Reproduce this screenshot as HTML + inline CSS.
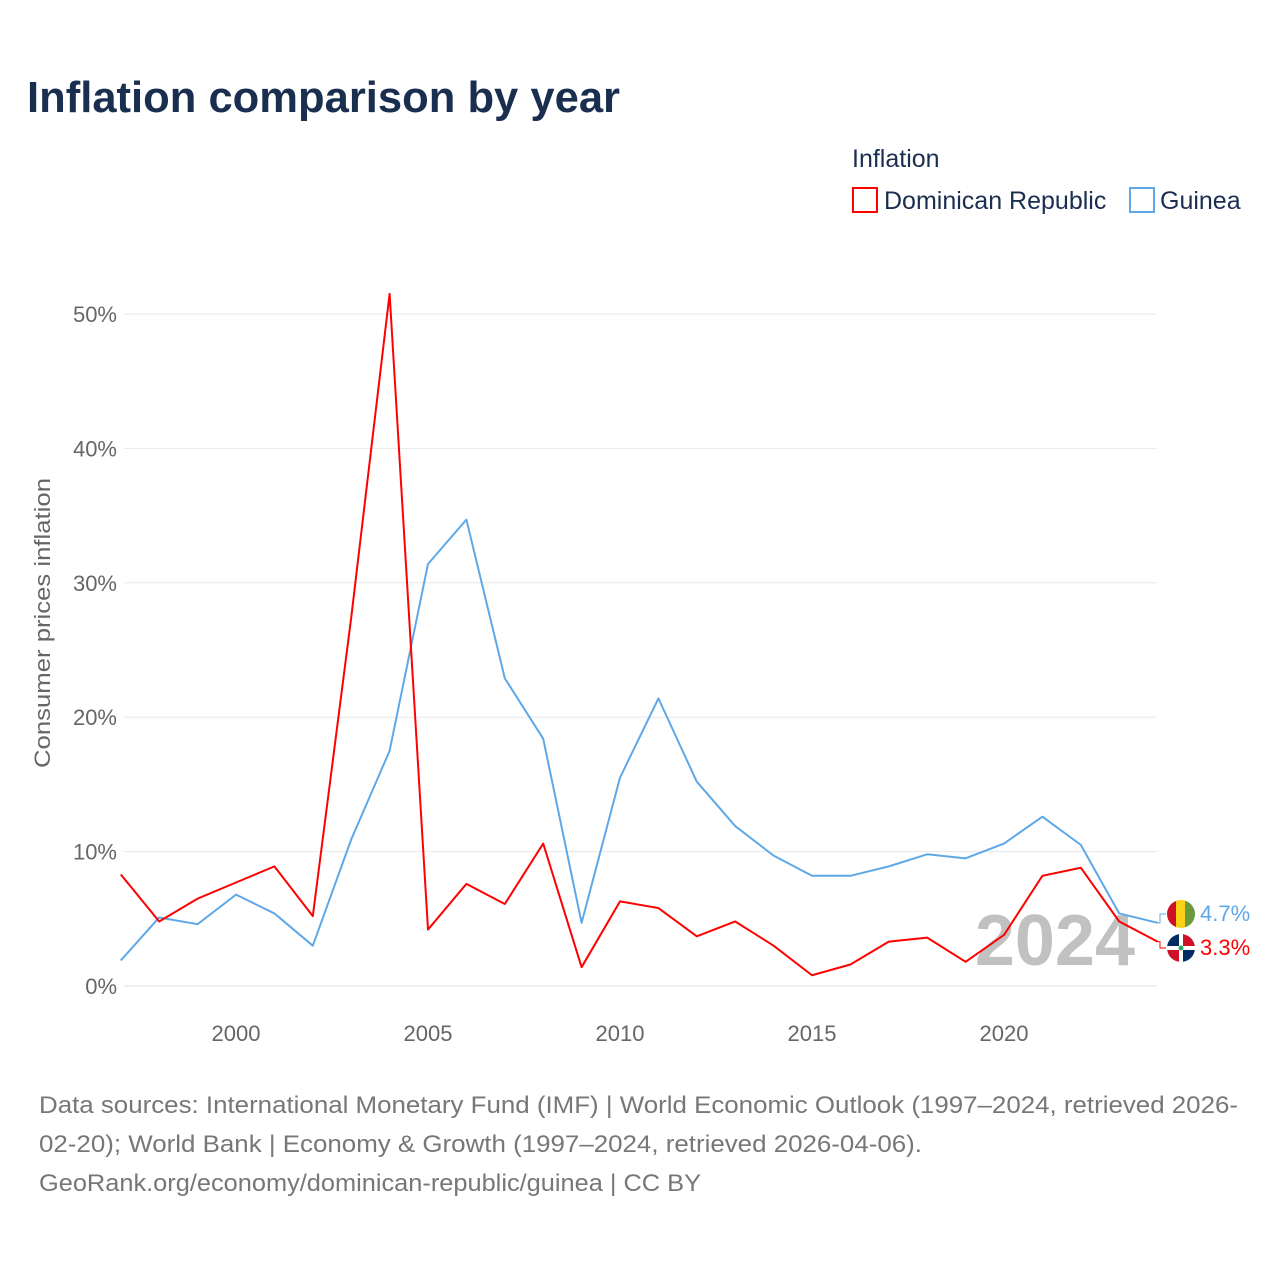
<!DOCTYPE html>
<html><head><meta charset="utf-8">
<style>
body{margin:0;background:#fff;font-family:"Liberation Sans",sans-serif;}
#wrap{position:relative;width:1280px;height:1280px;overflow:hidden;}
</style></head>
<body>
<div id="wrap">
<svg id="chart" width="1280" height="1280" viewBox="0 0 1280 1280">
<text x="27" y="112" font-size="44" font-weight="bold" fill="#1a2e4f" textLength="593" lengthAdjust="spacingAndGlyphs">Inflation comparison by year</text>
<text x="852" y="167" font-size="25" fill="#1a2e4f">Inflation</text>
<g>
<rect x="853" y="188" width="24" height="24" fill="none" stroke="#f00" stroke-width="2"/>
<text x="884" y="209" font-size="25" fill="#1a2e4f">Dominican Republic</text></g>
<g>
<rect x="1130" y="188" width="24" height="24" fill="none" stroke="#5ea8e8" stroke-width="2"/>
<text x="1160" y="209" font-size="25" fill="#1a2e4f">Guinea</text></g>
<g id="grid"></g>
<g id="yticks"></g>
<g id="xticks"></g>
<text transform="translate(50,623) rotate(-90)" text-anchor="middle" font-size="22" fill="#666" textLength="290" lengthAdjust="spacingAndGlyphs">Consumer prices inflation</text>
<text x="1135" y="965" text-anchor="end" font-size="72" font-weight="bold" fill="#bbb" opacity="0.9">2024</text>
<g id="series"></g>
<g>
<clipPath id="cg"><circle cx="1181" cy="914" r="14"/></clipPath>
<g clip-path="url(#cg)"><rect x="1167" y="900" width="10" height="28" fill="#ce1126"/><rect x="1176" y="900" width="10" height="28" fill="#fcd116"/><rect x="1185" y="900" width="10" height="28" fill="#6a9a3e"/></g></g>
<g>
<clipPath id="cd"><circle cx="1181" cy="948" r="14"/></clipPath>
<g clip-path="url(#cd)"><rect x="1167" y="934" width="28" height="28" fill="#fff"/><rect x="1167" y="934" width="12" height="12" fill="#002d62"/><rect x="1183" y="934" width="12" height="12" fill="#ce1126"/><rect x="1167" y="950" width="12" height="12" fill="#ce1126"/><rect x="1183" y="950" width="12" height="12" fill="#002d62"/><circle cx="1181" cy="948" r="2.5" fill="#2a6"/></g></g>
<text x="1200" y="921" font-size="22" fill="#5ea8e8">4.7%</text>
<text x="1200" y="955" font-size="22" fill="#f00">3.3%</text>
<text font-size="24" fill="#777"><tspan x="39" y="1113" textLength="1199" lengthAdjust="spacingAndGlyphs">Data sources: International Monetary Fund (IMF) | World Economic Outlook (1997–2024, retrieved 2026-</tspan></text>
<text font-size="24" fill="#777"><tspan x="39" y="1152" textLength="883" lengthAdjust="spacingAndGlyphs">02-20); World Bank | Economy &amp; Growth (1997–2024, retrieved 2026-04-06).</tspan></text>
<text font-size="24" fill="#777"><tspan x="39" y="1191" textLength="662" lengthAdjust="spacingAndGlyphs">GeoRank.org/economy/dominican-republic/guinea | CC BY</tspan></text>
</svg>
</div>
<script>
const years=[1997,1998,1999,2000,2001,2002,2003,2004,2005,2006,2007,2008,2009,2010,2011,2012,2013,2014,2015,2016,2017,2018,2019,2020,2021,2022,2023,2024];
const domRep=[8.3,4.8,6.5,7.7,8.9,5.2,27.4,51.5,4.2,7.6,6.1,10.6,1.4,6.3,5.8,3.7,4.8,3.0,0.8,1.6,3.3,3.6,1.8,3.8,8.2,8.8,4.8,3.3];
const guinea=[1.9,5.1,4.6,6.8,5.4,3.0,10.9,17.5,31.4,34.7,22.9,18.4,4.7,15.5,21.4,15.2,11.9,9.7,8.2,8.2,8.9,9.8,9.5,10.6,12.6,10.5,5.4,4.7];
const yTicks=[0,10,20,30,40,50];
const xTicks=[2000,2005,2010,2015,2020];
const NS="http://www.w3.org/2000/svg";
function xs(y){return 120.8+(y-1997)*38.4;}
function ys(v){return 986-v*13.44;}
const grid=document.getElementById('grid'),yt=document.getElementById('yticks'),xt=document.getElementById('xticks'),ser=document.getElementById('series');
yTicks.forEach(t=>{
 const l=document.createElementNS(NS,'line');
 
 
 l.setAttribute('x1',124);l.setAttribute('x2',1157);l.setAttribute('y1',ys(t));l.setAttribute('y2',ys(t));
 l.setAttribute('stroke',t===0?'#ddd':'#e8e8e8');l.setAttribute('stroke-width',1);grid.appendChild(l);
 const tx=document.createElementNS(NS,'text');
 
 
 tx.setAttribute('x',117);tx.setAttribute('y',ys(t)+8);tx.setAttribute('text-anchor','end');tx.setAttribute('font-size','22');tx.setAttribute('fill','#666');
 tx.textContent=t+'%';yt.appendChild(tx);
});
xTicks.forEach(t=>{
 const tx=document.createElementNS(NS,'text');
 
 
 tx.setAttribute('x',xs(t));tx.setAttribute('y',1041);tx.setAttribute('text-anchor','middle');tx.setAttribute('font-size','22');tx.setAttribute('fill','#666');
 tx.textContent=t;xt.appendChild(tx);
});
function line(vals,color,name){
 const p=document.createElementNS(NS,'polyline');
 
 
 p.setAttribute('points',vals.map((v,i)=>xs(years[i])+','+ys(v)).join(' '));
 p.setAttribute('fill','none');p.setAttribute('stroke',color);p.setAttribute('stroke-width',2);p.setAttribute('stroke-linejoin','round');
 ser.appendChild(p);
 const last=vals[vals.length-1];
 const c=document.createElementNS(NS,'polyline');
 
 
 const ly=name.indexOf('guinea')>=0?914:948;
 c.setAttribute('points',xs(2024)+','+ys(last)+' 1160,'+ys(last)+' 1160,'+ly+' 1166,'+ly);
 c.setAttribute('fill','none');c.setAttribute('stroke',color);c.setAttribute('stroke-width',1);
 ser.appendChild(c);
}
line(guinea,'#5ea8e8','line-guinea');
line(domRep,'#ff0000','line-dominican-republic');
</script>
</body></html>
